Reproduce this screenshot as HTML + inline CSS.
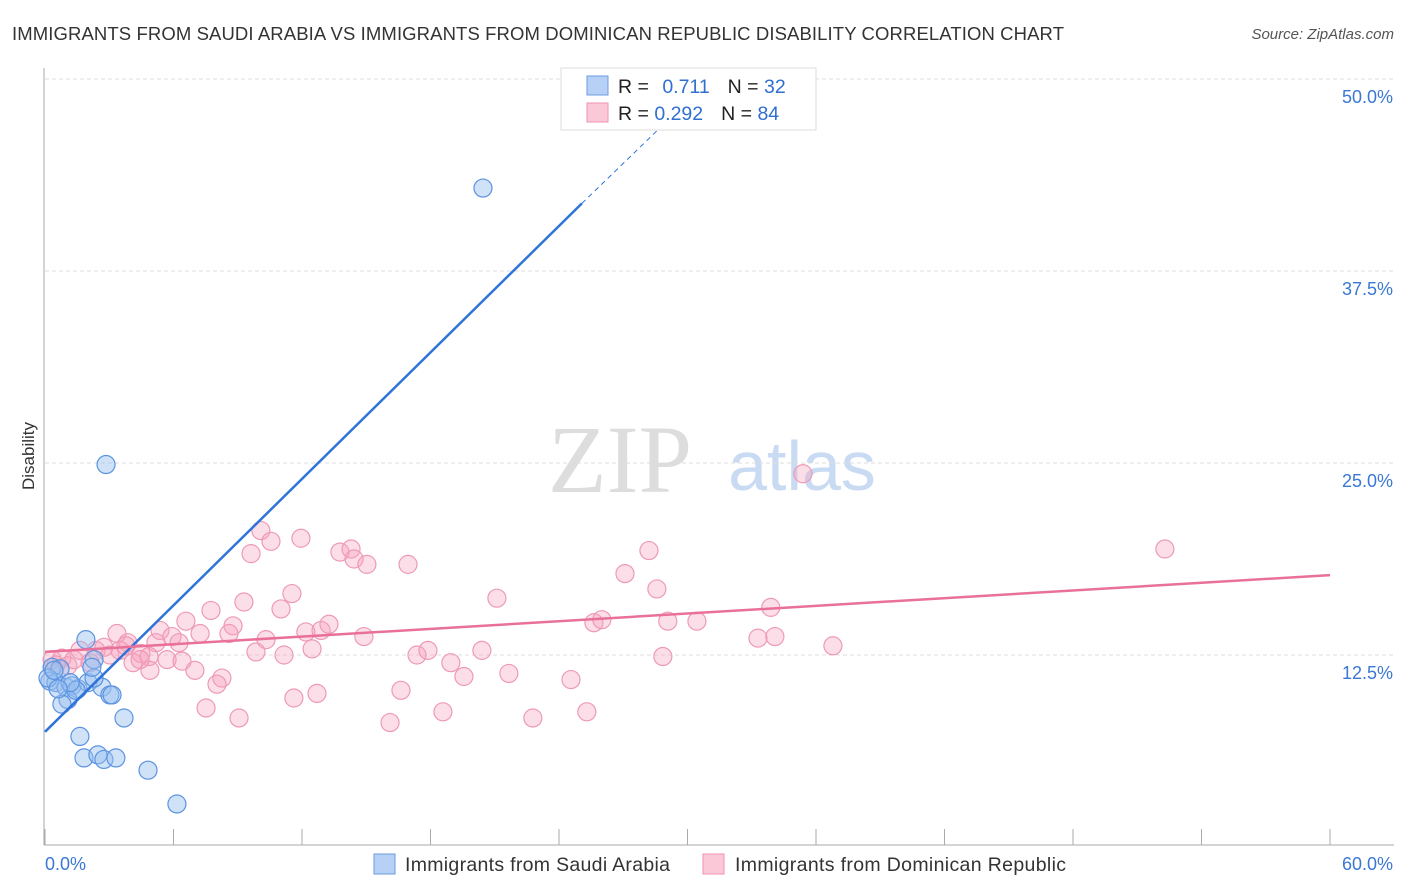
<!DOCTYPE html>
<html><head><meta charset="utf-8"><style>
body{margin:0;background:#fff;font-family:"Liberation Sans",sans-serif;}
svg{display:block}
</style></head><body>
<svg id="chart" width="1406" height="892">
<text x="12" y="40" font-size="18.5" fill="#333" textLength="1052">IMMIGRANTS FROM SAUDI ARABIA VS IMMIGRANTS FROM DOMINICAN REPUBLIC DISABILITY CORRELATION CHART</text>
<text x="1394" y="39" font-size="15" fill="#555" font-style="italic" text-anchor="end">Source: ZipAtlas.com</text>
<text x="620" y="492" font-size="96" fill="#ddd" font-family="Liberation Serif,serif" text-anchor="middle">ZIP</text>
<text x="802" y="490" font-size="70" fill="#c9daf3" text-anchor="middle">atlas</text>
<text x="34" y="456" font-size="17" fill="#333" text-anchor="middle" transform="rotate(-90 34 456)">Disability</text>
<g id="grid"></g><g id="axes"></g><g id="pink"></g><g id="blue"></g><g id="lines"></g>
<g>
<rect x="561" y="68" width="255" height="62" fill="#fff" stroke="#ddd"/>
<rect x="587" y="76" width="21" height="19" fill="#b6d1f5" stroke="#6a9be0"/>
<rect x="587" y="103" width="21" height="19" fill="#fbc8d7" stroke="#ef93b0"/>
<text x="618" y="93" font-size="19.5" fill="#222">R = <tspan fill="#2f6fd0" dx="8">0.711</tspan><tspan fill="#222" dx="18">N = </tspan><tspan fill="#2f6fd0">32</tspan></text>
<text x="618" y="120" font-size="19.5" fill="#222">R = <tspan fill="#2f6fd0">0.292</tspan><tspan fill="#222" dx="18">N = </tspan><tspan fill="#2f6fd0">84</tspan></text>
</g>
<g>
<rect x="374" y="854" width="21" height="20" fill="#b6d1f5" stroke="#6a9be0"/>
<text x="405" y="871" font-size="19.5" fill="#333" textLength="265">Immigrants from Saudi Arabia</text>
<rect x="703" y="854" width="21" height="20" fill="#fbc8d7" stroke="#ef93b0"/>
<text x="735" y="871" font-size="19.5" fill="#333" textLength="331">Immigrants from Dominican Republic</text>
</g>
</svg>
<script>
const yTicks=[12.5,25,37.5,50];
const yTickLabels=["12.5%","25.0%","37.5%","50.0%"];
const xTicks=[0,6,12,18,24,30,36,42,48,54,60];
const xEndLabels=["0.0%","60.0%"];
const blueX=[20.45,2.85,1.91,2.29,0.33,0.70,0.23,0.51,0.98,1.26,1.54,2.01,2.66,3.03,3.13,1.07,0.79,3.69,1.63,1.82,2.47,2.75,3.31,4.81,6.16,0.14,0.42,1.45,2.29,1.17,0.61,2.19];
const blueY=[42.9,24.9,13.5,12.2,11.7,11.6,10.8,10.7,10.4,10.5,10.3,10.7,10.4,9.9,9.9,9.6,9.3,8.4,7.2,5.8,6.0,5.7,5.8,5.0,2.8,11.0,11.5,10.2,11.0,10.7,10.3,11.7];
const pinkX=[10.08,10.55,11.95,9.62,13.77,14.29,14.43,15.03,16.95,11.53,9.29,7.75,11.02,6.58,8.78,8.59,5.37,5.93,7.24,3.36,3.87,5.18,6.26,10.32,12.18,12.89,13.26,14.89,12.47,9.85,11.16,4.48,4.86,4.11,5.70,6.40,7.00,4.90,8.26,8.03,7.52,9.06,11.62,12.70,16.11,16.62,18.58,17.37,17.88,18.95,19.56,20.40,21.66,21.10,22.78,24.56,25.30,25.63,26.00,27.08,28.20,28.57,29.08,30.44,28.85,33.29,34.08,33.89,36.79,35.39,52.29,0.33,0.51,0.79,1.07,1.35,1.63,2.10,2.38,2.75,3.03,3.50,3.78,4.44];
const pinkY=[20.6,19.9,20.1,19.1,19.2,19.4,18.75,18.4,18.4,16.5,15.95,15.4,15.5,14.7,14.4,13.9,14.1,13.7,13.9,13.9,13.3,13.3,13.3,13.5,14.0,14.1,14.5,13.7,12.9,12.7,12.5,12.6,12.4,12.0,12.2,12.1,11.5,11.5,11.0,10.6,9.05,8.4,9.7,10.0,8.1,10.2,8.8,12.5,12.8,12.0,11.1,12.8,11.3,16.2,8.4,10.9,8.8,14.6,14.8,17.8,19.3,16.8,14.7,14.7,12.4,13.6,13.7,15.6,13.1,24.3,19.4,12.2,11.85,12.3,11.8,12.2,12.8,12.0,12.8,13.0,12.5,12.8,13.1,12.2];
const X0=45,X1=1330,Y0=847,Y1=79;
const sx=v=>X0+(X1-X0)*v/60, sy=v=>Y0+(Y1-Y0)*v/50;
const NS="http://www.w3.org/2000/svg";
function mk(tag,attrs,parent){const e=document.createElementNS(NS,tag);for(const k in attrs)e.setAttribute(k,attrs[k]);document.getElementById(parent).appendChild(e);return e;}
yTicks.forEach((t,i)=>{
 const g=mk('line',{x1:45,x2:1394,y1:sy(t),y2:sy(t),stroke:'#ddd','stroke-dasharray':'4 3'},'grid');
 
 
 const l=mk('text',{x:1393,y:sy(t)+24,'font-size':18,fill:'#3a78d4','text-anchor':'end'},'grid');
 l.textContent=yTickLabels[i];
 
 
});
const ax=mk('line',{x1:44,x2:44,y1:68,y2:845,stroke:'#aaa'},'axes');


const bx=mk('line',{x1:44,x2:1394,y1:845,y2:845,stroke:'#aaa'},'axes');


xTicks.forEach(t=>{
 const k=mk('line',{x1:sx(t),x2:sx(t),y1:829,y2:845,stroke:'#aaa'},'axes');
 
 
});
const xl0=mk('text',{x:45,y:870,'font-size':18,fill:'#3a78d4'},'axes');xl0.textContent=xEndLabels[0];


const xl1=mk('text',{x:1393,y:870,'font-size':18,fill:'#3a78d4','text-anchor':'end'},'axes');xl1.textContent=xEndLabels[1];


pinkX.forEach((v,i)=>{
 const c=mk('circle',{cx:sx(v),cy:sy(pinkY[i]),r:9,fill:'rgba(246,160,188,0.35)',stroke:'#ee9ab5','stroke-width':1.2},'pink');
 
 
});
blueX.forEach((v,i)=>{
 const c=mk('circle',{cx:sx(v),cy:sy(blueY[i]),r:9,fill:'rgba(150,190,240,0.45)',stroke:'#5b93e0','stroke-width':1.2},'blue');
 
 
});
const bl=mk('line',{x1:sx(0),y1:sy(7.5),x2:sx(25.07),y2:sy(41.9),stroke:'#2f74d8','stroke-width':2.5},'lines');


const bd=mk('line',{x1:sx(25.07),y1:sy(41.9),x2:sx(28.7),y2:sy(46.8),stroke:'#2f74d8','stroke-width':1,'stroke-dasharray':'5 4'},'lines');


const pl=mk('line',{x1:sx(0),y1:sy(12.7),x2:sx(60),y2:sy(17.7),stroke:'#e8709a','stroke-width':2.5},'lines');


</script>
</body></html>
